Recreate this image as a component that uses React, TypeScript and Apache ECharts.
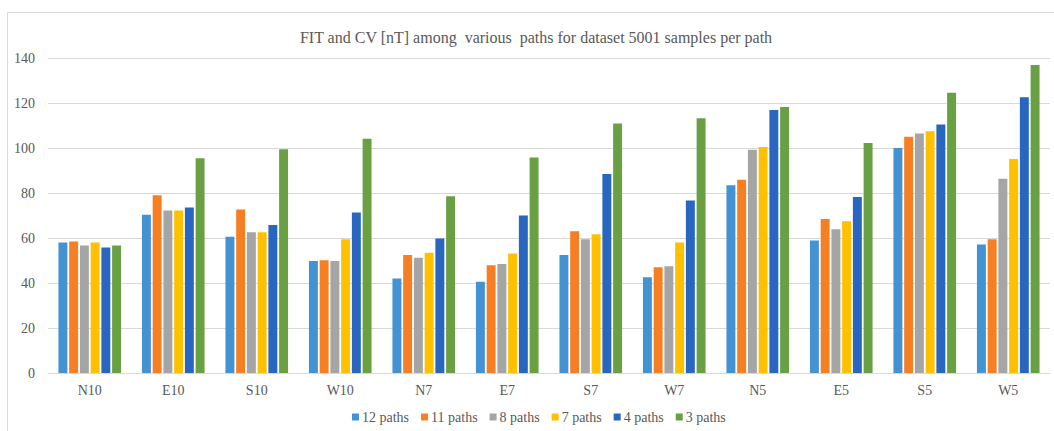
import React, { useEffect, useRef } from "react";
import * as echarts from "echarts";

const categories = ["N10", "E10", "S10", "W10", "N7", "E7", "S7", "W7", "N5", "E5", "S5", "W5"];
const seriesNames = ["12 paths", "11 paths", "8 paths", "7 paths", "4 paths", "3 paths"];
const paths12 = [58.0, 70.3, 60.6, 49.8, 42.0, 40.6, 52.5, 42.6, 83.5, 58.9, 100.0, 57.1];
const paths11 = [58.4, 79.0, 72.7, 50.1, 52.5, 47.9, 63.0, 47.0, 85.9, 68.4, 105.0, 59.5];
const paths8 = [56.7, 72.2, 62.6, 49.8, 51.2, 48.5, 59.5, 47.5, 99.2, 63.9, 106.5, 86.3];
const paths7 = [58.0, 72.2, 62.6, 59.5, 53.4, 53.1, 61.7, 58.0, 100.4, 67.5, 107.4, 95.1];
const paths4 = [55.8, 73.6, 65.8, 71.3, 59.8, 70.0, 88.5, 76.7, 116.9, 78.2, 110.5, 122.6];
const paths3 = [56.7, 95.4, 99.5, 104.1, 78.6, 95.8, 110.9, 113.2, 118.2, 102.2, 124.6, 136.9];
const seriesData = [paths12, paths11, paths8, paths7, paths4, paths3];
const colors = ["#4393D3", "#F57F22", "#A5A5A5", "#FFC000", "#2866BF", "#69A044"];
const yTicks = { min: 0, max: 140, interval: 20 };

export default function App() {
  const ref = useRef<HTMLDivElement>(null);
  useEffect(() => {
    if (!ref.current) return;
    const chart = echarts.init(ref.current, null, { renderer: "svg" });
    const font = "Liberation Serif";
    chart.setOption({
      animation: false,
      color: colors,
      textStyle: { fontFamily: font },
      title: {
        text: "FIT and CV [nT] among  various  paths for dataset 5001 samples per path",
        left: 531,
        textAlign: "center",
        top: 24,
        textStyle: { fontFamily: font, fontSize: 16, fontWeight: "normal", color: "#595959" },
      },
      graphic: [
        {
          type: "rect",
          shape: { x: 7.5, y: 12.5, width: 1100, height: 600 },
          style: { fill: "none", stroke: "#D9D9D9", lineWidth: 1 },
          silent: true,
        },
      ],
      legend: {
        bottom: 2,
        left: 347,
        itemWidth: 7,
        itemHeight: 7,
        itemGap: 12,
        icon: "rect",
        textStyle: { fontFamily: font, fontSize: 14, color: "#595959", padding: [0, 0, 0, -2] },
        data: seriesNames,
      },
      grid: { left: 48, right: 4, top: 58, bottom: 58 },
      xAxis: {
        type: "category",
        data: categories,
        axisLine: { lineStyle: { color: "#D9D9D9", width: 1 } },
        axisTick: { show: false },
        axisLabel: { fontFamily: font, fontSize: 14, color: "#595959", margin: 10 },
      },
      yAxis: {
        type: "value",
        min: yTicks.min,
        max: yTicks.max,
        interval: yTicks.interval,
        axisLine: { show: false },
        axisTick: { show: false },
        axisLabel: { fontFamily: font, fontSize: 14, color: "#595959", margin: 13 },
        splitLine: { lineStyle: { color: "#D9D9D9", width: 1 } },
      },
      series: seriesNames.map((name, i) => ({
        name,
        type: "bar",
        data: seriesData[i],
        barGap: "20%",
        barCategoryGap: "25%",
        itemStyle: { color: colors[i] },
      })),
    });
    return () => chart.dispose();
  }, []);
  return (
    <div
      ref={ref}
      style={{ position: "fixed", left: 0, top: 0, width: 1054, height: 431, background: "#fff" }}
    />
  );
}
